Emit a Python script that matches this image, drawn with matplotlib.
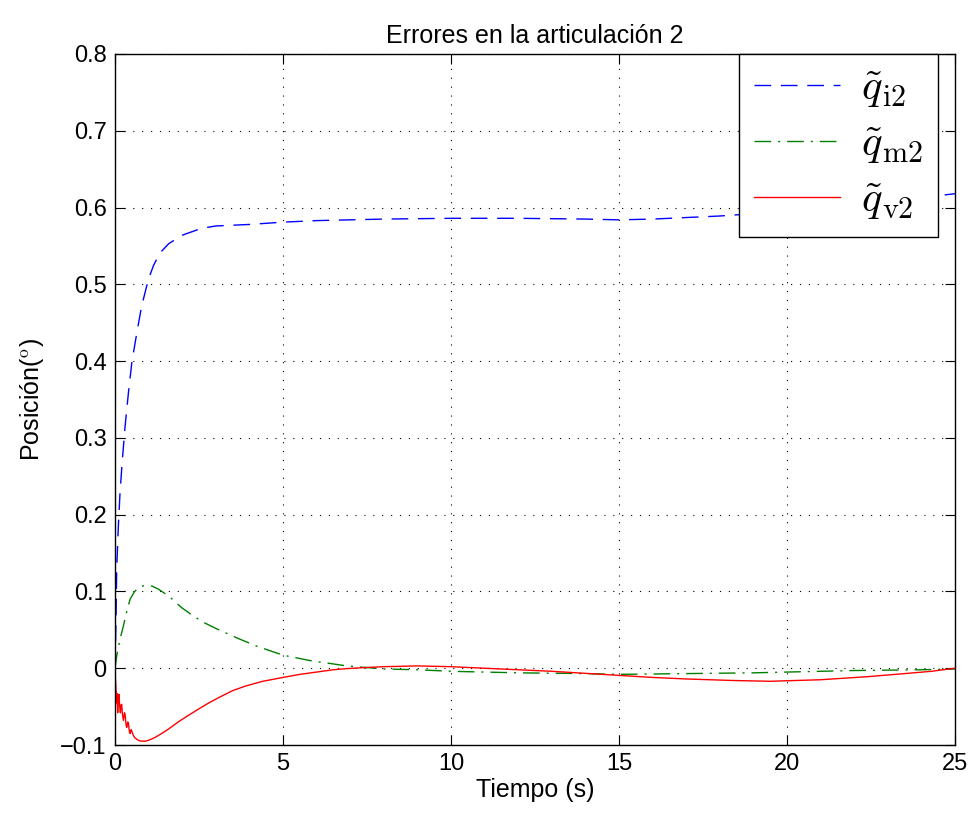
import matplotlib
matplotlib.use("Agg")
import matplotlib.pyplot as plt

plt.rcParams["font.family"] = ["Liberation Sans", "DejaVu Sans"]
plt.rcParams["mathtext.fontset"] = "cm"

# values
t_i = [0, 0.03, 0.05, 0.10, 0.15, 0.22, 0.30, 0.40, 0.50, 0.65, 0.79, 0.99, 1.15, 1.34,
       1.6, 2.0, 2.58, 3.0, 4.0, 5.0, 6.0, 8.0, 10.0, 12.0, 14.0, 15.0, 16.0, 17.0,
       18.0, 19.0, 20.0, 21.0, 22.0, 23.0, 24.0, 25.0]
q_i2 = [0.0, 0.064, 0.129, 0.185, 0.229, 0.272, 0.315, 0.359, 0.398, 0.437, 0.471, 0.506,
        0.525, 0.541, 0.553, 0.564, 0.573, 0.576, 0.578, 0.581, 0.583, 0.585, 0.586,
        0.586, 0.585, 0.584, 0.585, 0.587, 0.589, 0.592, 0.596, 0.600, 0.604, 0.608,
        0.613, 0.618]

t_m = [0, 0.05, 0.15, 0.25, 0.35, 0.45, 0.57, 0.69, 0.82, 0.94, 1.1, 1.29, 1.6, 1.98,
       2.3, 2.62, 3.04, 3.6, 4.2, 5.0, 5.8, 6.9, 8.0, 9.0, 10.0, 12.0, 14.0, 15.0, 17.0,
       19.0, 20.0, 22.0, 24.0, 25.0]
q_m2 = [0.0, 0.016, 0.038, 0.055, 0.074, 0.090, 0.099, 0.105, 0.107, 0.108, 0.107,
        0.103, 0.094, 0.079, 0.069, 0.060, 0.051, 0.040, 0.029, 0.017, 0.010, 0.003,
        -0.001, -0.002, -0.004, -0.006, -0.007, -0.008, -0.007, -0.006, -0.005, -0.003,
        -0.002, -0.001]

t_v = [0, 0.02, 0.05, 0.06, 0.08, 0.10, 0.12, 0.14, 0.16, 0.18, 0.20, 0.22, 0.25, 0.28,
       0.30, 0.33, 0.35, 0.38, 0.40, 0.43, 0.45, 0.48, 0.50, 0.55, 0.60, 0.70, 0.79,
       0.90, 0.99, 1.1, 1.2, 1.39, 1.6, 1.88, 2.2, 2.53, 2.8, 3.1, 3.51, 3.9, 4.4, 5.0,
       5.5, 6.0, 6.5, 6.9, 7.5, 8.0, 9.0, 10.0, 11.0, 12.0, 13.0, 14.5, 16.0, 17.0,
       18.4, 19.5, 21.0, 22.4, 23.5, 24.3, 25.0]
q_v2 = [0.0, -0.020, -0.045, -0.033, -0.058, -0.040, -0.034, -0.050, -0.058, -0.048,
        -0.047, -0.060, -0.068, -0.058, -0.060, -0.074, -0.077, -0.070, -0.072, -0.083,
        -0.085, -0.080, -0.082, -0.088, -0.091, -0.094, -0.095, -0.095, -0.094, -0.092,
        -0.090, -0.085, -0.079, -0.070, -0.061, -0.052, -0.045, -0.038, -0.029, -0.023,
        -0.017, -0.012, -0.008, -0.005, -0.002, -0.0005, 0.001, 0.002, 0.003,
        0.002, 0.000, -0.002, -0.004, -0.008, -0.012, -0.014, -0.016, -0.017, -0.015,
        -0.011, -0.007, -0.004, 0.0]

xticks = [0, 5, 10, 15, 20, 25]
yticks = [-0.1, 0, 0.1, 0.2, 0.3, 0.4, 0.5, 0.6, 0.7, 0.8]
ytick_labels = ["\u22120.1", "0", "0.1", "0.2", "0.3", "0.4", "0.5", "0.6", "0.7", "0.8"]

fig = plt.figure(figsize=(9.77, 8.24), dpi=100)
ax = fig.add_axes([115 / 977, 1 - 745 / 824, 840 / 977, 691 / 824])

ax.plot(t_i, q_i2, color="#0000ff", lw=1.0, linestyle=(0, (12, 7)),
        label=r"$\tilde{q}_{\rm i2}$")
ax.plot(t_m, q_m2, color="#008000", lw=1.0, linestyle=(0, (12, 5, 1.5, 5)),
        label=r"$\tilde{q}_{\rm m2}$")
ax.plot(t_v, q_v2, color="#ff0000", lw=1.0, linestyle="-",
        label=r"$\tilde{q}_{\rm v2}$")

ax.set_xlim(0, 25)
ax.set_ylim(-0.1, 0.8)
ax.set_xticks(xticks)
ax.set_yticks(yticks)
ax.set_yticklabels(ytick_labels)
ax.tick_params(direction="in", length=7, width=0.8, labelsize=17,
               top=True, right=True, pad=6)
for s in ax.spines.values():
    s.set_linewidth(1.0)

ax.grid(True, color="black", linestyle=(0, (1, 7)), linewidth=0.8)

ax.set_title("Errores en la articulación 2", fontsize=18, pad=8)
ax.set_xlabel("Tiempo (s)", fontsize=18, labelpad=2)
ax.set_ylabel(r"Posición($^{\rm o}$)", fontsize=18, labelpad=10)

leg = ax.legend(loc="upper right", bbox_to_anchor=(0.98, 1.0), borderaxespad=0,
                fontsize=31, fancybox=False, framealpha=1, edgecolor="black",
                handlelength=2.0, handletextpad=0.5, labelspacing=0.35,
                borderpad=0.35)
leg.get_frame().set_linewidth(1.0)

fig.savefig("out.png", dpi=100)
